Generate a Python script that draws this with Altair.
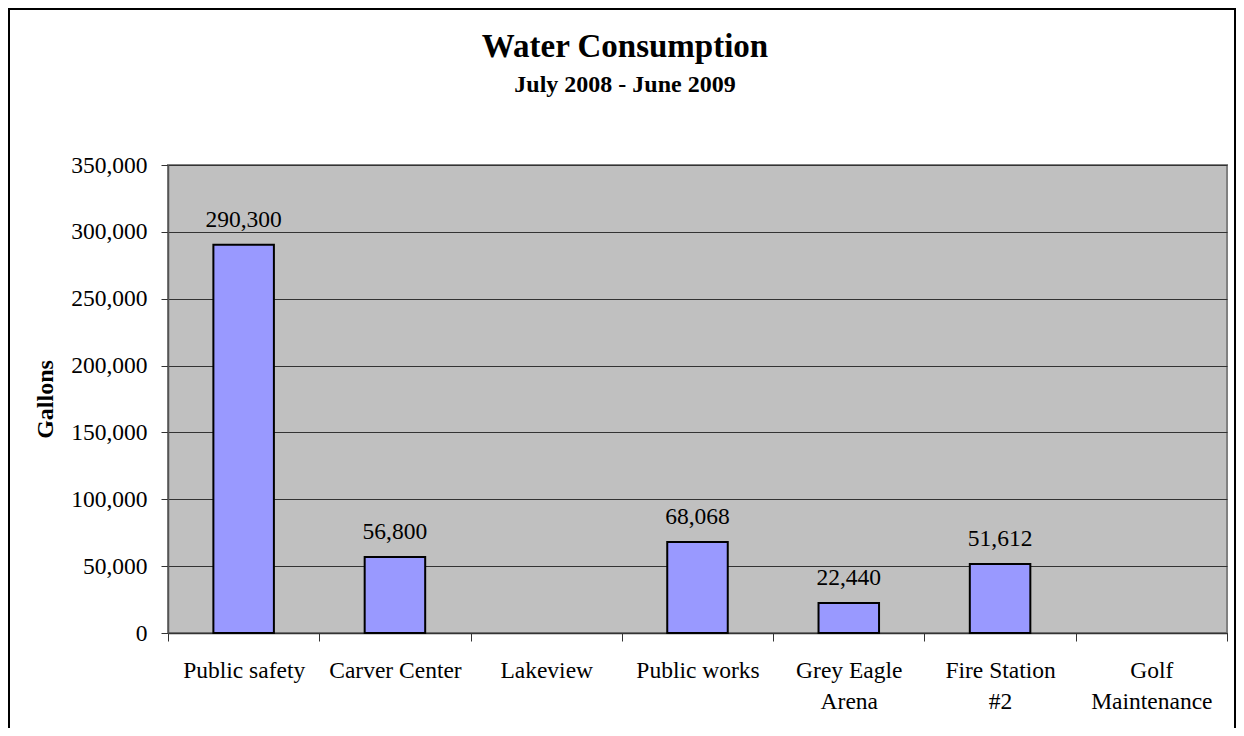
import altair as alt
import pandas as pd

categories = ["Public safety", "Carver Center", "Lakeview", "Public works",
              "Grey Eagle Arena", "Fire Station #2", "Golf Maintenance"]
gallons = [290300, 56800, None, 68068, 22440, 51612, None]
y_ticks = [0, 50000, 100000, 150000, 200000, 250000, 300000, 350000]
title_text = "Water Consumption"
subtitle_text = "July 2008 - June 2009"

df = pd.DataFrame({"site": categories, "gallons": gallons})

FONT = "Liberation Serif"
W, H = 1059, 468

wrap_expr = ("length(datum.label) > 13 ? "
             "[substring(datum.label, 0, lastindexof(datum.label, ' ')), "
             "substring(datum.label, lastindexof(datum.label, ' ') + 1)] : datum.label")

x_enc = alt.X(
    "site:N",
    sort=None,
    scale=alt.Scale(domain=categories, paddingInner=0, paddingOuter=0),
    axis=alt.Axis(
        title=None, labelAngle=0, tickBand="extent", labelExpr=wrap_expr,
        labelFont=FONT, labelFontSize=23.5, labelColor="black",
        labelPadding=17, labelLineHeight=31,
        tickSize=8, tickColor="#333333", domainColor="#333333", domainWidth=1.5,
        grid=False,
    ),
)
y_enc = alt.Y(
    "gallons:Q",
    scale=alt.Scale(domain=[0, 350000], nice=False),
    axis=alt.Axis(
        values=y_ticks, format=",d", title="Gallons",
        titleFont=FONT, titleFontSize=24, titleFontWeight="bold", titleColor="black",
        titleX=-123, titleY=234, titleAngle=-90, titleAlign="center", titleBaseline="middle",
        labelFont=FONT, labelFontSize=23.5, labelColor="black", labelPadding=14,
        tickSize=7, tickColor="#333333", domainColor="#555555", domainWidth=1.5,
        grid=True, gridColor="#333333", gridWidth=1,
    ),
)

bars = alt.Chart(df).mark_bar(
    color="#9999FF", stroke="black", strokeWidth=2, width=alt.RelativeBandSize(0.4)
).encode(x=x_enc, y=y_enc)

labels = alt.Chart(df).transform_filter("isValid(datum.gallons)").mark_text(
    baseline="alphabetic", dy=-18, font=FONT, fontSize=23.5, color="black"
).encode(x=x_enc, y=y_enc, text=alt.Text("gallons:Q", format=",d"))

titles_df = pd.DataFrame({"t": [title_text]})
main_title = alt.Chart(titles_df).mark_text(
    font=FONT, fontSize=33, fontWeight="bold", color="black",
    align="center", baseline="alphabetic"
).encode(x=alt.value(457), y=alt.value(-108), text="t:N")

subs_df = pd.DataFrame({"s": [subtitle_text]})
sub_title = alt.Chart(subs_df).mark_text(
    font=FONT, fontSize=24, fontWeight="bold", color="black",
    align="center", baseline="alphabetic"
).encode(x=alt.value(457), y=alt.value(-73), text="s:N")

border = alt.Chart(pd.DataFrame({"k": [0]})).mark_rect(
    fillOpacity=0, stroke="black", strokeWidth=2
).encode(x=alt.value(-159), x2=alt.value(1067), y=alt.value(-156), y2=alt.value(575))

chart = alt.layer(bars, labels, main_title, sub_title, border).properties(
    width=W, height=H,
    autosize="none",
    padding={"left": 160, "top": 157, "right": 9, "bottom": 95},
    background="white",
).configure_view(
    fill="#C0C0C0", stroke="#808080", strokeWidth=2
)

chart.save("out.html", embed_options={"renderer": "svg", "actions": False})
